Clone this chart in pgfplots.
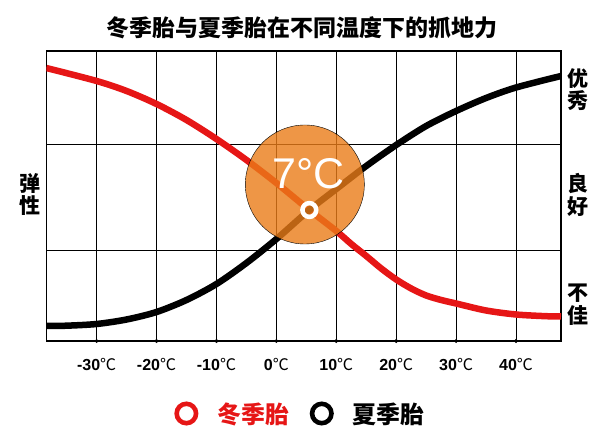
\documentclass[border=0pt]{standalone}
\usepackage{pgfplots}
\pgfplotsset{compat=1.18}
\usepackage{fontspec}
\setmainfont{Liberation Sans}
\newfontfamily\cjk{Noto Sans CJK SC}
\definecolor{myred}{RGB}{230,22,22}
\definecolor{myorange}{RGB}{234,124,24}
\begin{document}
\begin{tikzpicture}[x=1pt,y=1pt]
\useasboundingbox (0,0) rectangle (600,433);
\begin{axis}[at={(46.3pt,92pt)}, anchor=south west,
  width=514.7pt, height=290pt, scale only axis,
  xmin=-38.4, xmax=47.5, ymin=0, ymax=290,
  xtick={-30,-20,-10,0,10,20,30,40},
  xticklabels={{\bfseries -30}{\cjk ℃},{\bfseries -20}{\cjk ℃},{\bfseries -10}{\cjk ℃},{\bfseries 0}{\cjk ℃},{\bfseries 10}{\cjk ℃},{\bfseries 20}{\cjk ℃},{\bfseries 30}{\cjk ℃},{\bfseries 40}{\cjk ℃}},
  ytick={90,196}, yticklabels={},
  grid=major, major grid style={black, line width=1pt},
  major tick style={draw=none},
  axis line style={black, line width=1.3pt},
  xticklabel style={font=\fontsize{16}{16}\selectfont, yshift=-14pt},
  legend style={at={(0.494,-0.25)}, anchor=center, draw=none, fill=none,
    legend columns=2, font=\cjk\bfseries\fontsize{24}{24}\selectfont,
    /tikz/every even column/.append style={column sep=18pt}},
  legend image code/.code={\draw[line width=4.6pt] (12pt,0) circle (9.7pt); \path (0pt,0) (41pt,0);},
]
\addplot[forget plot, myred, line width=6.5pt, smooth] coordinates {
(-38.4,273) (-30,260) (-25,250) (-20,237) (-15,221) (-10,202) (-5,181) (0,158) (5.5,131) (10,110) (12.5,97) (15,85) (17.5,72.5) (20,61.5) (22.5,52.5) (25,45.5) (27.5,41) (30,37.5) (35,30.5) (40,26.5) (45,24.8) (47.5,24.5)};
\addplot[forget plot, black, line width=6.5pt, smooth] coordinates {
(-38.4,15) (-35,15.3) (-30,17) (-25,21.5) (-20,29) (-15,41) (-10,57) (-5,78) (0,102) (5.5,131) (10,152) (15,175) (20,196) (25,215) (30,230) (35,243) (40,253.5) (47.5,265)};
\addplot[forget plot, only marks, mark=*, mark size=59.5pt, mark options={fill=myorange, draw=none, fill opacity=0.8}] coordinates {(4.75,156.5)};
\addplot[forget plot, only marks, mark=*, mark size=0pt, mark options={draw=none, fill=none},
  nodes near coords={7°C},
  every node near coord/.style={white, anchor=center, font=\fontsize{43}{43}\selectfont}] coordinates {(5.33,167.5)};
\addplot[forget plot, only marks, mark=o, mark size=6.9pt, mark options={draw=white, line width=4.5pt}] coordinates {(5.5,131)};
\addplot[forget plot, only marks, mark=*, mark size=1.8pt, black] coordinates {(-30,0) (-20,0) (-10,0) (0,0) (10,0) (20,0) (30,0) (40,0)};
\addlegendimage{myred}
\addlegendentry{\textcolor{myred}{冬季胎}}
\addlegendimage{black}
\addlegendentry{夏季胎}
\end{axis}
\node[font=\cjk\bfseries\fontsize{23}{24}\selectfont, inner sep=0pt] at (302,405) {冬季胎与夏季胎在不同温度下的抓地力};
\node[font=\cjk\bfseries\fontsize{21}{22.5}\selectfont, align=center] at (30,238.5) {弹\\性};
\node[font=\cjk\bfseries\fontsize{21}{22.5}\selectfont, align=center] at (578,343.5) {优\\秀};
\node[font=\cjk\bfseries\fontsize{21}{22.5}\selectfont, align=center] at (578,238) {良\\好};
\node[font=\cjk\bfseries\fontsize{21}{22.5}\selectfont, align=center] at (578,128.5) {不\\佳};
\end{tikzpicture}
\end{document}
